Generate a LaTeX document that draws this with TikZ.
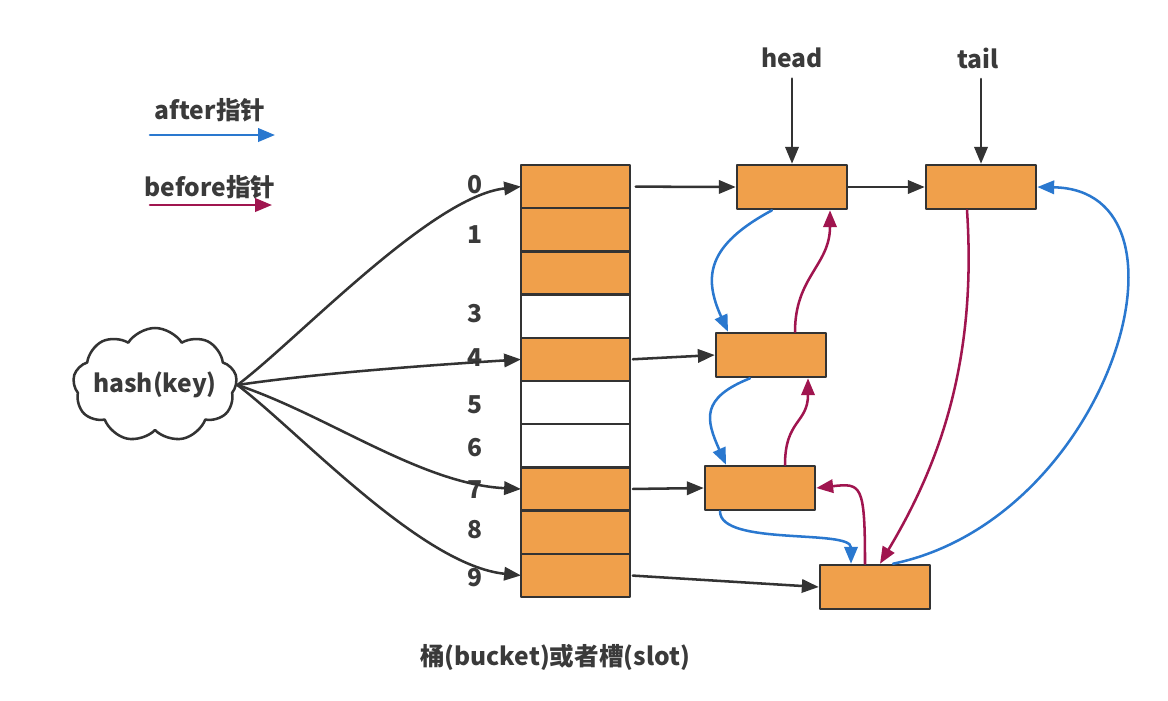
\documentclass[tikz,border=0pt]{standalone}
\usepackage{fontspec}
\setmainfont{Noto Sans CJK SC}
\usetikzlibrary{arrows.meta, shapes.symbols, calc}
\definecolor{orng}{HTML}{F0A04B}
\definecolor{boxline}{HTML}{333333}
\definecolor{txtgray}{HTML}{3A3A3A}
\definecolor{ptrblue}{HTML}{2A78CF}
\definecolor{ptrpurple}{HTML}{A0154F}
\begin{document}
\begin{tikzpicture}[x=0.025cm, y=-0.025cm, line join=round, line cap=round,
	font=\fontsize{17.5}{20}\selectfont\bfseries,
	>={Triangle[length=12pt,width=9.5pt]},
	every node/.style={text=txtgray},
	slot/.style={draw=boxline, line width=1.8pt, minimum width=2.725cm, minimum height=1.08cm, inner sep=0pt, outer sep=0pt},
	entry/.style={draw=boxline, fill=orng, line width=1.8pt, minimum width=2.75cm, minimum height=1.1cm, inner sep=0pt},
	link/.style={->, line width=1.8pt, draw=boxline},
	afterptr/.style={->, line width=1.8pt, draw=ptrblue},
	beforeptr/.style={->, line width=1.8pt, draw=ptrpurple}]
		\useasboundingbox (0,0) rectangle (1168,700);
		% legend
		\node (afterlbl) at (210,110) {after指针};
		\coordinate (aft1) at (150,135); \coordinate (aft2) at (275,135);
		\draw[afterptr] (aft1)--(aft2);
		\node (beforelbl) at (210,187) {before指针};
		\coordinate (bef1) at (150,205); \coordinate (bef2) at (272,205);
		\draw[beforeptr] (bef1)--(bef2);
		% buckets
		\foreach \i/\c in {0/orng,1/orng,2/orng,3/white,4/orng,5/white,6/white,7/orng,8/orng,9/orng}
			\node[slot, fill=\c] (b\i) at (575.5,{165+43.2*(\i+0.5)}) {};
		\foreach \i/\y in {0/185,1/235,3/314,4/358,5/405,6/448,7/490,8/530,9/578}
			\node (l\i) at (475,\y) {\i};
		\node (cap) at (555,657) {桶(bucket)或者槽(slot)};
		% hash
		\node[cloud, draw=boxline, line width=1.8pt, cloud puffs=9, cloud puff arc=115, aspect=1.45,
			minimum width=4.1cm, minimum height=2.85cm, inner sep=0pt] (hash) at (155,385) {};
		\node (hashtxt) at (hash.center) {hash(key)};
		\draw[link] (hash.east) .. controls +(60,-45) and +(-90,10) .. (b0.west);
		\draw[link] (hash.east) .. controls +(80,-12) and +(-80,5) .. (b4.west);
		\draw[link] (hash.east) .. controls +(90,30) and +(-100,-5) .. (b7.west);
		\draw[link] (hash.east) .. controls +(60,45) and +(-100,-10) .. (b9.west);
		% entries
		\node[entry] (n0) at (792,187) {};
		\node[entry] (nt) at (981,187) {};
		\node[entry] (n4) at (771,355) {};
		\node[entry] (n7) at (760,488) {};
		\node[entry] (n9) at (875,587) {};
		\node (headlbl) at (792,58) {head};
		\node (taillbl) at (978,58) {tail};
		\draw[link, shorten <=4pt] (headlbl)--(n0);
		\draw[link, shorten <=4pt] (taillbl.south -| nt.north)--(nt.north);
		\draw[link, shorten <=4pt] (b0.east)--(n0.west);
		\draw[link, shorten <=2pt] (b4.east)--(n4.west);
		\draw[link, shorten <=2pt] (b7.east)--(n7.west);
		\draw[link, shorten <=2pt] (b9.east)--(n9.west);
		\draw[link] (n0.east)--(nt.west);
		% after
		\draw[afterptr] ($(n0.south)+(-20,0)$) .. controls +(-65,35) and +(-25,-55) .. ($(n4.north)+(-43,0)$);
		\draw[afterptr] ($(n4.south)+(-21,0)$) .. controls +(-50,20) and +(-20,-45) .. ($(n7.north)+(-34,0)$);
		\draw[afterptr] ($(n7.south)+(-40,0)$) .. controls +(0,35) and +(0,-35) .. ($(n9.north)+(-24,0)$);
		\draw[afterptr] ($(n9.north)+(18,0)$) .. controls +(217,-45) and +(170,3) .. (nt.east);
		% before
		\draw[beforeptr] ($(n4.north)+(24,0)$) .. controls +(0,-55) and +(0,55) .. ($(n0.south)+(38,0)$);
		\draw[beforeptr] ($(n7.north)+(25,0)$) .. controls +(0,-45) and +(0,45) .. ($(n4.south)+(37,0)$);
		\draw[beforeptr] ($(n9.north)+(-10,0)$) .. controls +(0,-80) and +(45,-5) .. (n7.east);
		\draw[beforeptr] ($(nt.south)+(-14,0)$) .. controls +(10,150) and +(60,-100) .. ($(n9.north)+(5,0)$);
\end{tikzpicture}
\end{document}
